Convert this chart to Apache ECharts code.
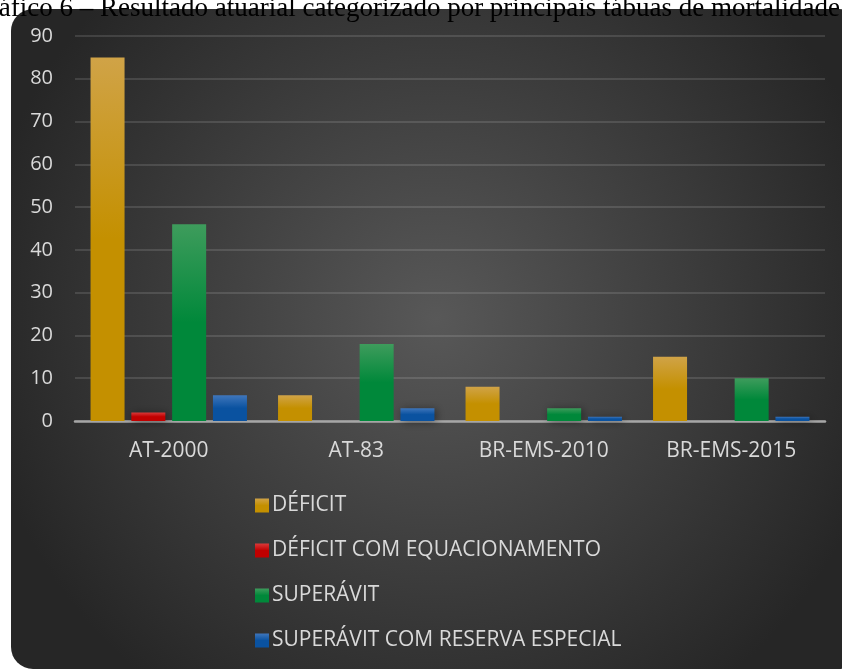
<!DOCTYPE html>
<html>
<head>
<meta charset="utf-8">
<script src="https://cdn.jsdelivr.net/npm/echarts@6/dist/echarts.min.js"></script>
<style>
  html, body { margin: 0; padding: 0; background: #fff; }
  #chart { width: 842px; height: 669px; }
</style>
</head>
<body>
<div id="chart"></div>
<script>
const categories = ['AT-2000', 'AT-83', 'BR-EMS-2010', 'BR-EMS-2015'];
const deficit = [85, 6, 8, 15];
const deficitEquac = [2, 0, 0, 0];
const superavit = [46, 18, 3, 10];
const superavitReserva = [6, 3, 1, 1];

const seriesNames = ['DÉFICIT', 'DÉFICIT COM EQUACIONAMENTO', 'SUPERÁVIT', 'SUPERÁVIT COM RESERVA ESPECIAL'];
const seriesData = [deficit, deficitEquac, superavit, superavitReserva];
const topColors = ['#D0A347', '#D93A3A', '#3E9C5C', '#3F76BB'];
const baseColors = ['#C49000', '#C00000', '#00883A', '#0A52A0'];

const chart = echarts.init(document.getElementById('chart'));

const labelFont = '"Open Sans", "Noto Sans", sans-serif';

const series = seriesData.map((d, i) => ({
    name: seriesNames[i],
    type: 'bar',
    data: d.map(v => (v === 0 ? null : v)),
    barWidth: 34,
    barGap: '20%',
    itemStyle: {
        color: new echarts.graphic.LinearGradient(0, 0, 0, 1, [
            { offset: 0, color: topColors[i] },
            { offset: 0.5, color: baseColors[i] },
            { offset: 1, color: baseColors[i] }
        ]),
        shadowBlur: 8,
        shadowColor: 'rgba(0,0,0,0.45)',
        shadowOffsetX: 2,
        shadowOffsetY: 1
    }
}));

const option = {
    backgroundColor: '#ffffff',
    color: baseColors,
    graphic: [
        {
            type: 'rect',
            z: -10,
            shape: { x: 11, y: 9, width: 850, height: 660, r: 22 },
            style: {
                fill: new echarts.graphic.RadialGradient(0.5, 0.47, 0.7, [
                    { offset: 0, color: '#585858' },
                    { offset: 1, color: '#262626' }
                ])
            }
        },
        {
            type: 'text',
            z: -5,
            right: 2,
            top: -5,
            style: {
                text: 'Gráfico 6 – Resultado atuarial categorizado por principais tábuas de mortalidade',
                font: '27px "Liberation Serif", "DejaVu Serif", serif',
                fill: '#000'
            }
        }
    ],
    grid: {
        left: 75,
        right: 17,
        top: 36,
        bottom: 248,
        containLabel: false
    },
    legend: {
        orient: 'vertical',
        left: 250,
        top: 490,
        itemWidth: 14,
        itemHeight: 14,
        itemGap: 24,
        icon: 'rect',
        textStyle: {
            color: '#D9D9D9',
            fontSize: 21,
            fontFamily: labelFont,
            padding: [0, 0, 0, -2]
        }
    },
    xAxis: {
        type: 'category',
        data: categories,
        axisLine: { lineStyle: { color: '#A6A6A6', width: 2.5 } },
        axisTick: { show: false },
        axisLabel: {
            color: '#D9D9D9',
            fontSize: 21,
            fontFamily: labelFont,
            margin: 20
        }
    },
    yAxis: {
        type: 'value',
        min: 0,
        max: 90,
        interval: 10,
        axisLine: { show: false },
        axisTick: { show: false },
        axisLabel: {
            color: '#D9D9D9',
            fontSize: 20,
            fontFamily: labelFont,
            margin: 22
        },
        splitLine: { lineStyle: { color: 'rgba(255,255,255,0.12)', width: 2 } }
    },
    series: series
};

chart.setOption(option);
</script>
</body>
</html>
